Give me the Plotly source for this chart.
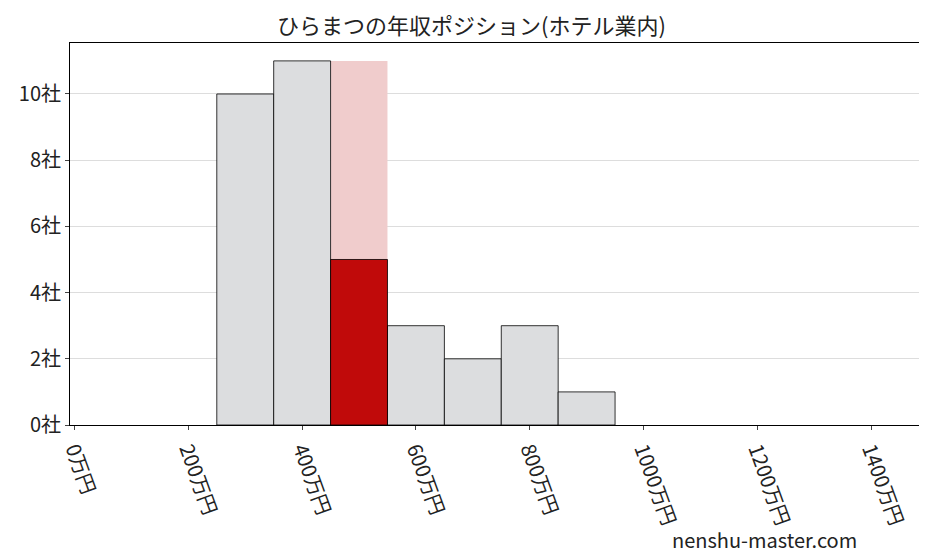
import plotly.graph_objects as go

centers = [300, 400, 600, 700, 800, 900]
counts = [10, 11, 3, 2, 3, 1]
hl_center = [500]
hl_count = [5]
hl_bg = [11]
tick_vals = [0, 200, 400, 600, 800, 1000, 1200, 1400]
tick_text = [f"{v}万円" for v in tick_vals]
y_vals = [0, 2, 4, 6, 8, 10]
y_text = [f"{v}社" for v in y_vals]

font = "Noto Sans CJK JP"
fig = go.Figure()
fig.add_bar(x=hl_center, y=hl_bg, width=100, marker=dict(color="#f0cccc", line=dict(width=0)))
fig.add_bar(x=centers, y=counts, width=100, marker=dict(color="#dcdddf", line=dict(color="black", width=0.8)))
fig.add_bar(x=hl_center, y=hl_count, width=100, marker=dict(color="#c00a0a", line=dict(color="black", width=0.8)))
fig.update_layout(
    barmode="overlay", showlegend=False, width=927, height=557,
    paper_bgcolor="white", plot_bgcolor="white",
    margin=dict(l=62, r=7, t=35, b=140, autoexpand=False),
    font=dict(family=font, size=20, color="#222"),
    title=dict(text="ひらまつの年収ポジション(ホテル業内)", x=0.5, xanchor="center", y=0.968, yanchor="middle", font=dict(size=22)),
    xaxis=dict(range=[-8, 1500], tickvals=tick_vals, ticktext=tick_text, tickangle=70, automargin=False,
               showline=True, linecolor="black", mirror=True, ticks="outside", ticklen=4, showgrid=False, zeroline=False),
    yaxis=dict(range=[0, 11.54], tickvals=y_vals, ticktext=y_text, showline=True, linecolor="black", mirror=True, automargin=False,
               ticks="outside", ticklen=4, gridcolor="#dddddd", zeroline=False),
)
fig.add_annotation(text="nenshu-master.com", xref="paper", yref="paper", x=0.92, y=-0.3,
                   showarrow=False, xanchor="right", yanchor="middle", font=dict(size=20))
fig.write_html("out.html")
